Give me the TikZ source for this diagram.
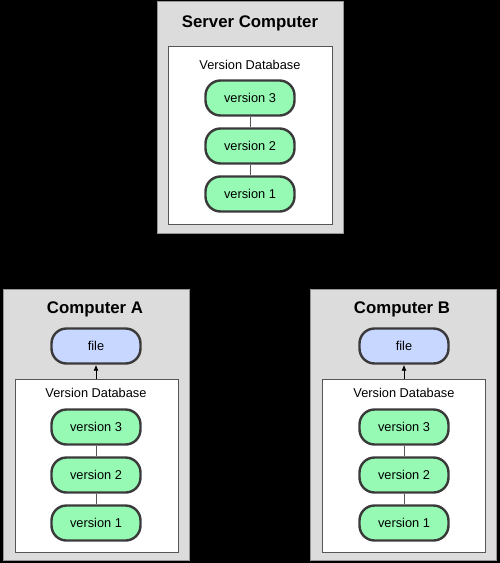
\documentclass[tikz,border=0pt]{standalone}
\usepackage{fontspec}
\setmainfont{Liberation Sans}
\usepackage{tikz}
\usetikzlibrary{arrows.meta,positioning,calc}
\definecolor{hostgray}{RGB}{220, 220, 220}
\definecolor{hostedge}{RGB}{150, 150, 150}
\definecolor{dbedge}{RGB}{85, 85, 85}
\definecolor{versiongreen}{RGB}{150, 250, 180}
\definecolor{fileblue}{RGB}{200, 215, 255}
\definecolor{pilledge}{RGB}{58, 58, 58}

\begin{document}
\begin{tikzpicture}[x=1pt, y=-1pt,
  host/.style={draw=hostedge, fill=hostgray, line width=0.8pt, rectangle, inner sep=0pt},
  dbbox/.style={draw=dbedge, fill=white, line width=1pt, rectangle, inner sep=0pt},
  hosttitle/.style={font=\fontsize{16.8}{18}\selectfont\bfseries, inner sep=0pt},
  dbtitle/.style={font=\fontsize{12.8}{14}\selectfont, inner sep=0pt},
  version/.style={draw=pilledge, fill=versiongreen, line width=2.4pt, rounded corners=15pt, minimum width=89pt, minimum height=35pt, font=\fontsize{12.8}{14}\selectfont, inner sep=0pt},
  workfile/.style={version, fill=fileblue},
  link/.style={draw=dbedge, line width=1pt},
  flow/.style={-{Latex[length=6pt,width=5pt]}, line width=0.9pt}
]

\fill[black] (0,0) rectangle (500,563);
\useasboundingbox (0,0) rectangle (500,563);

% Server Computer
\node[host, minimum width=186pt, minimum height=232pt] (srv) at (250,117) {};
\node[dbbox, minimum width=164pt, minimum height=178pt] (srvdb) at (250,135) {};
\node[hosttitle] (srvtitle) at (250,23) {Server Computer};
\node[dbtitle] (srvdbtitle) at (250,65) {Version Database};
\node[version] (srvv3) at (250,98) {version 3};
\node[version] (srvv2) at (250,146) {version 2};
\node[version] (srvv1) at (250,194) {version 1};

% Computer A
\node[host, minimum width=186pt, minimum height=271pt] (compA) at (96,424.5) {};
\node[dbbox, minimum width=163pt, minimum height=173pt] (dbA) at (96.5,465.5) {};
\node[hosttitle] (titleA) at (95,309) {Computer A};
\node[workfile] (fileA) at (96,346) {file};
\node[dbtitle] (dbtitleA) at (96,393) {Version Database};
\node[version] (v3A) at (96,427) {version 3};
\node[version] (v2A) at (96,475) {version 2};
\node[version] (v1A) at (96,523) {version 1};

% Computer B
\node[host, minimum width=186pt, minimum height=271pt] (compB) at (403,424.5) {};
\node[dbbox, minimum width=163pt, minimum height=173pt] (dbB) at (404,465.5) {};
\node[hosttitle] (titleB) at (402,309) {Computer B};
\node[workfile] (fileB) at (404,346) {file};
\node[dbtitle] (dbtitleB) at (404,393) {Version Database};
\node[version] (v3B) at (404,427) {version 3};
\node[version] (v2B) at (404,475) {version 2};
\node[version] (v1B) at (404,523) {version 1};

% Connections
\draw[link] (srvv3) -- (srvv2);
\draw[link] (srvv2) -- (srvv1);
\draw[link] (v3A) -- (v2A);
\draw[link] (v2A) -- (v1A);
\draw[link] (v3B) -- (v2B);
\draw[link] (v2B) -- (v1B);
\draw[flow] (fileA |- dbA.north) -- (fileA.south);
\draw[flow] (fileB |- dbB.north) -- (fileB.south);

\end{tikzpicture}
\end{document}
